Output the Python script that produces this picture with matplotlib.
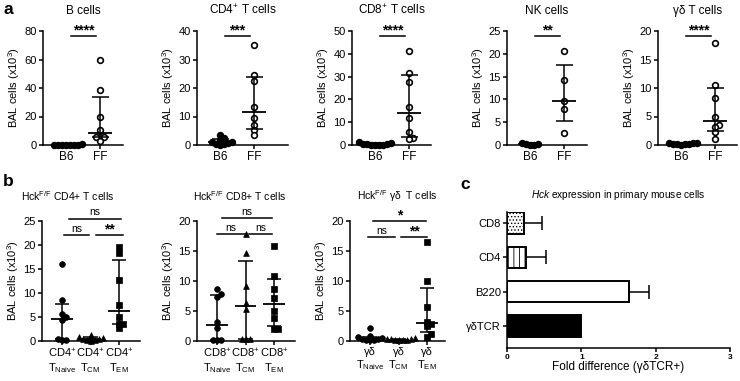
import numpy as np
import matplotlib
matplotlib.use('Agg')
import matplotlib.pyplot as plt

plt.rcParams['font.family'] = ['Liberation Sans', 'DejaVu Sans']
plt.rcParams['mathtext.fontset'] = 'custom'
plt.rcParams['mathtext.rm'] = 'Liberation Sans'
plt.rcParams['mathtext.it'] = 'Liberation Sans:italic'
plt.rcParams['mathtext.default'] = 'regular'
plt.rcParams['hatch.linewidth'] = 0.6


# panel a: BAL cells (x10^3), B6 vs FF

bcell_b6 = [0.4, 0.3, 0.2, 0.2, 0.1, 0.1, 0.0, 0.0]
bcell_ff = [59.4, 38.4, 19.3, 10.6, 5.9, 5.9, 5.4, 2.8]
cd4_b6 = [3.4, 2.5, 1.8, 1.2, 0.9, 0.6, 0.4, 0.2, 0.1]
cd4_ff = [35.1, 24.5, 22.5, 13.5, 9.6, 7.1, 5.2, 3.6]
cd8_b6 = [1.5, 0.9, 0.6, 0.4, 0.3, 0.2, 0.1, 0.1, 0.0]
cd8_ff = [41.3, 31.6, 27.5, 16.7, 11.7, 5.9, 3.0, 2.6]
nk_b6 = [0.5, 0.3, 0.2, 0.1, 0.1]
nk_ff = [20.7, 14.2, 9.7, 8.0, 2.6]
gd_b6 = [0.4, 0.3, 0.3, 0.2, 0.2, 0.1, 0.1, 0.0]
gd_ff = [17.9, 10.6, 8.2, 4.9, 3.5, 3.1, 2.2, 1.0]

a_titles = ['B cells', 'CD4$^{+}$ T cells', 'CD8$^{+}$ T cells', 'NK cells', 'γδ T cells']
a_groups = ['B6', 'FF']
a_ymax = [80, 40, 50, 25, 20]
a_ystep = [20, 10, 10, 5, 5]
a_stars = ['****', '***', '****', '**', '****']

# panel b: Hck F/F T cell subsets

cd4_naive = [16.0, 8.5, 5.7, 5.0, 4.3, 0.4, 0.3, 0.3]
cd4_cm = [1.3, 0.9, 0.7, 0.5, 0.4, 0.3, 0.2, 0.1]
cd4_em = [19.5, 18.4, 12.7, 7.6, 4.9, 3.6, 3.6, 2.7]
cd8_naive = [8.7, 7.9, 7.3, 3.1, 2.2, 0.2, 0.2, 0.2]
cd8_cm = [17.8, 14.7, 9.2, 6.4, 5.4, 0.3, 0.3, 0.3]
cd8_em = [15.9, 10.9, 8.7, 7.2, 5.0, 3.8, 2.0, 2.0]
gdt_naive = [2.2, 0.9, 0.6, 0.5, 0.4, 0.3, 0.2, 0.1, 0.1]
gdt_cm = [0.5, 0.4, 0.3, 0.3, 0.2, 0.2, 0.1, 0.1]
gdt_em = [16.5, 10.0, 5.6, 3.2, 2.9, 2.5, 1.1, 0.7]

b_titles = ['Hck$^{F/F}$ CD4+ T cells', 'Hck$^{F/F}$ CD8+ T cells', 'Hck$^{F/F}$ γδ  T cells']
b_prefix = ['CD4$^{+}$', 'CD8$^{+}$', 'γδ']
b_subsets = ['Naive', 'CM', 'EM']
b_ymax = [25, 20, 20]
b_sig = [['ns', 'ns', '**'], ['ns', 'ns', 'ns'], ['*', 'ns', '**']]

# panel c: Hck expression

c_cells = ['CD8', 'CD4', 'B220', 'γδTCR']
c_fold = [0.23, 0.25, 1.64, 1.0]
c_err = [0.24, 0.27, 0.27, 0.0]


W, H = 740, 381
fig = plt.figure(figsize=(W / 100, H / 100), dpi=100)


def add_ax(x0, x1, y0, y1):
    return fig.add_axes([x0 / W, 1 - y1 / H, (x1 - x0) / W, (y1 - y0) / H])


def prism(ax):
    for s in ('top', 'right'):
        ax.spines[s].set_visible(False)
    for s in ('left', 'bottom'):
        ax.spines[s].set_linewidth(1.1)
    ax.tick_params(direction='out', length=3, width=1.1, labelsize=8, pad=1.5)


def swarm(vals, ppu_y, ppu_x, step=3.6):
    # simple beeswarm: spread points that would overlap
    vals = np.asarray(vals, float)
    xs = np.zeros(len(vals))
    placed = []
    for i in np.argsort(vals):
        y = vals[i] * ppu_y
        k = 0
        pos = None
        while pos is None:
            cands = [0.0] if k == 0 else [k * step, -k * step]
            for c in cands:
                if all((c - px) ** 2 + (y - py) ** 2 >= step ** 2 for px, py in placed):
                    pos = c
                    break
            k += 1
        placed.append((pos, y))
        xs[i] = pos / ppu_x
    return xs


def summary(ax, x, vals, half_med, half_cap):
    q1, med, q3 = np.percentile(vals, [25, 50, 75], method='weibull')
    kw = dict(color='k', lw=1.1, zorder=4, clip_on=False)
    ax.vlines(x, q1, q3, **kw)
    ax.hlines([q1, q3], x - half_cap, x + half_cap, **kw)
    ax.hlines(med, x - half_med, x + half_med, color='k', lw=1.3, zorder=4, clip_on=False)


def stars_text(ax, x, y, txt):
    ax.text(x, y, txt, ha='center', va='center', fontsize=10, fontweight='bold')


# ---- panel a ----

a_data = [(bcell_b6, bcell_ff), (cd4_b6, cd4_ff), (cd8_b6, cd8_ff), (nk_b6, nk_ff), (gd_b6, gd_ff)]
a_xpx = [(43, 123), (197, 288), (352, 431), (507, 587), (658, 737)]
a_top, a_bot = 31, 145
unit_a = 34.0

for (x0, x1), (b6, ff), title, ymax, ystep, stars in zip(a_xpx, a_data, a_titles, a_ymax, a_ystep, a_stars):
    ax = add_ax(x0, x1, a_top, a_bot)
    prism(ax)
    ppu_y = (a_bot - a_top) / ymax
    ax.set_xlim(-23 / unit_a, (x1 - x0 - 23) / unit_a)
    ax.set_ylim(0, ymax)
    for i, (vals, face) in enumerate([(b6, 'k'), (ff, 'white')]):
        xs = i + swarm(vals, ppu_y, unit_a, step=4.0)
        ax.scatter(xs, vals, s=17, facecolor=face, edgecolor='k', linewidths=1.2, zorder=3, clip_on=False)
        summary(ax, i, vals, 0.36, 0.25)
    ax.set_xticks([0, 1])
    ax.set_xticklabels(a_groups, fontsize=8.5)
    ax.set_yticks(np.arange(0, ymax + 0.1, ystep))
    ax.set_ylabel('BAL cells (x10$^{3}$)', fontsize=8, labelpad=2)
    ax.set_title(title, fontsize=8.5, pad=12)
    ysig = 0.955 * ymax
    ax.plot([0.15, 0.87], [ysig, ysig], color='k', lw=1.1, clip_on=False)
    stars_text(ax, 0.51, ysig + 6 / ppu_y, stars)


# ---- panel b ----

b_data = [(cd4_naive, cd4_cm, cd4_em), (cd8_naive, cd8_cm, cd8_em), (gdt_naive, gdt_cm, gdt_em)]
b_xpx = [(42, 140), (197, 295), (350, 445)]
b_title_x = [68, 240, 397]
b_top, b_bot = 221, 341
unit_b = 28.5
b_markers = ['o', '^', 's']
# bracket layout: (x start, x end, height as fraction of ymax)
b_brackets = [
    [(0.25, 2.07, 1.02), (0.07, 0.95, 0.885), (1.19, 2.14, 0.885)],
    [(0.18, 1.93, 1.027), (0.0, 0.98, 0.89), (1.14, 1.93, 0.89)],
    [(0.10, 1.95, 1.0), (-0.07, 0.87, 0.865), (1.10, 2.0, 0.865)],
]

for k, ((x0, x1), groups, title, prefix, ymax, sigs, brackets) in enumerate(
        zip(b_xpx, b_data, b_titles, b_prefix, b_ymax, b_sig, b_brackets)):
    ax = add_ax(x0, x1, b_top, b_bot)
    prism(ax)
    ppu_y = (b_bot - b_top) / ymax
    ax.set_xlim(-20 / unit_b, (x1 - x0 - 20) / unit_b)
    ax.set_ylim(0, ymax)
    for i, (vals, mk) in enumerate(zip(groups, b_markers)):
        xs = i + swarm(vals, ppu_y, unit_b, step=4.0)
        ax.scatter(xs, vals, s=17, marker=mk, color='k', linewidths=0.5, zorder=3, clip_on=False)
        summary(ax, i, vals, 0.38, 0.25)
    ax.set_xticks([0, 1, 2])
    ax.set_xticklabels([prefix + '\nT$_{' + s + '}$' for s in b_subsets], fontsize=8, linespacing=1.05)
    ax.set_yticks(np.arange(0, ymax + 0.1, 5))
    ax.set_ylabel('BAL cells (x10$^{3}$)', fontsize=8, labelpad=2)
    fig.text(b_title_x[k] / W, 1 - 196 / H, title, ha='center', va='center', fontsize=7.5)
    for (bx0, bx1, yf), txt in zip(brackets, sigs):
        yb = yf * ymax
        ax.plot([bx0, bx1], [yb, yb], color='k', lw=1.1, clip_on=False)
        xm = (bx0 + bx1) / 2
        if txt == 'ns':
            ax.text(xm, yb + 1.2 / ppu_y, txt, ha='center', va='bottom', fontsize=7.5)
        else:
            stars_text(ax, xm, yb + 5.5 / ppu_y, txt)


# ---- panel c ----

axc = add_ax(507, 730, 212, 348)
prism(axc)
ypos = np.arange(len(c_cells))[::-1]
hatches = ['.....', '|||', '', '']
faces = ['white', 'white', 'white', 'black']
for y, v, h, f in zip(ypos, c_fold, hatches, faces):
    axc.barh(y, v, height=0.62, color=f, edgecolor='k', linewidth=1.4, hatch=h, zorder=2)
for y, v, e in zip(ypos, c_fold, c_err):
    if e > 0:
        axc.errorbar(v, y, xerr=[[0], [e]], fmt='none', ecolor='k', elinewidth=1.1,
                     capsize=5.2, capthick=1.1, zorder=3)
axc.set_xlim(0, 3)
axc.set_ylim(-0.64, 3.32)
axc.set_yticks(ypos)
axc.set_yticklabels(c_cells, fontsize=8)
axc.set_xticks([0, 1, 2, 3])
axc.set_xticklabels(['0', '1', '2', '3'], fontsize=6, fontweight='bold')
axc.set_xlabel('Fold difference (γδTCR+)', fontsize=8.5, labelpad=0)
axc.set_title('$\\it{Hck}$ expression in primary mouse cells', fontsize=7.3, pad=10)


# panel letters
fig.text(3 / W, 1 - 10 / H, 'a', fontsize=12.5, fontweight='bold', va='center')
fig.text(3 / W, 1 - 181 / H, 'b', fontsize=12.5, fontweight='bold', va='center')
fig.text(460 / W, 1 - 185 / H, 'c', fontsize=12.5, fontweight='bold', va='center')

fig.savefig('out.png', dpi=100)
